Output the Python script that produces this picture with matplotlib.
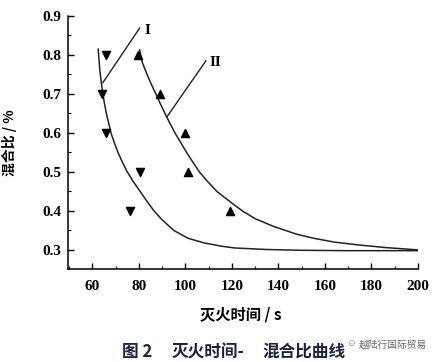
import matplotlib
matplotlib.use("Agg")
import matplotlib.pyplot as plt
from matplotlib.ticker import MultipleLocator

plt.rcParams['font.family'] = ['Liberation Serif', 'DejaVu Serif']
plt.rcParams['font.weight'] = 'bold'

# Data
x_I = [66, 64, 66, 80.5, 76.3]
y_I = [0.80, 0.70, 0.60, 0.50, 0.40]
x_II = [79.4, 89, 100, 101, 119]
y_II = [0.80, 0.70, 0.60, 0.50, 0.40]

curve_I_x = [62.5, 62.8, 63.2, 63.8, 64.5, 65.2, 66.0, 67.0, 68.0, 69.4, 71.0, 72.9, 75.0,
             77.6, 80.5, 83.4, 86.5, 90.0, 95.0, 101.0, 108.0, 115.0, 121.0, 135.0, 150.0,
             170.0, 200.0]
curve_I_y = [0.815, 0.79, 0.76, 0.73, 0.70, 0.675, 0.65, 0.625, 0.60, 0.575, 0.55, 0.525, 0.50,
             0.475, 0.45, 0.425, 0.40, 0.377, 0.35, 0.33, 0.318, 0.31, 0.305, 0.301, 0.299,
             0.298, 0.298]
curve_II_x = [80.3, 81.5, 83.5, 85.3, 87.3, 89.2, 91.2, 93.3, 95.5, 98.0, 100.5, 103.2, 106.0,
              109.6, 113.5, 120.0, 124.5, 130.0, 138.0, 148.0, 155.0, 164.0, 174.0, 186.0,
              200.0]
curve_II_y = [0.813, 0.78, 0.75, 0.725, 0.70, 0.675, 0.65, 0.625, 0.60, 0.575, 0.55, 0.525,
              0.50, 0.475, 0.45, 0.42, 0.40, 0.38, 0.36, 0.34, 0.33, 0.32, 0.313, 0.306, 0.30]

xticks = [60, 80, 100, 120, 140, 160, 180, 200]
yticks = [0.3, 0.4, 0.5, 0.6, 0.7, 0.8, 0.9]

fig = plt.figure(figsize=(4.39, 3.62), dpi=100)
ax = fig.add_axes([68/439, 1-269/362, (418-68)/439, (269-16)/362])

ax.plot(curve_I_x, curve_I_y, color='#222222', lw=1.1)
ax.plot(curve_II_x, curve_II_y, color='#222222', lw=1.1)
ax.scatter(x_I, y_I, marker='v', s=34, color='black', zorder=3)
ax.scatter(x_II, y_II, marker='^', s=34, color='black', zorder=3)

# leader lines and labels
ax.plot([64.5, 80.3], [0.729, 0.869], color='#222222', lw=1.0)
ax.text(82.5, 0.862, 'I', fontsize=11, fontweight='bold', va='center', ha='left')
ax.plot([92.0, 108.8], [0.641, 0.785], color='#222222', lw=1.0)
ax.text(110.5, 0.78, 'II', fontsize=11, fontweight='bold', va='center', ha='left')

ax.set_xlim(49.5, 200)
ax.set_ylim(0.251, 0.9)
ax.spines['top'].set_visible(False)
ax.spines['right'].set_visible(False)
for s in ['left', 'bottom']:
    ax.spines[s].set_linewidth(1.1)
ax.set_xticks(xticks)
ax.set_yticks(yticks)
ax.set_xticklabels([str(v) for v in xticks], fontsize=11, fontweight='bold')
ax.set_yticklabels([f'{v:.1f}' for v in yticks], fontsize=11, fontweight='bold')
ax.xaxis.set_minor_locator(MultipleLocator(10))
ax.yaxis.set_minor_locator(MultipleLocator(0.05))
ax.tick_params(which='major', direction='in', length=4, width=1.0)
ax.tick_params(which='minor', direction='in', length=2, width=0.8)
ax.tick_params(axis='x', which='major', pad=8)
ax.tick_params(axis='y', which='major', pad=5)

cjk = ['Noto Sans CJK SC', 'DejaVu Sans']
fig.text(200/439, 1-315/362, '灭火时间 / s', family=cjk, fontsize=11, fontweight='bold',
         ha='left', va='center')
fig.text(9/439, 1-143/362, '混合比 / %', family=cjk, fontsize=10, fontweight='bold',
         ha='center', va='center', rotation=90)
cap_color = '#1c2340'
fig.text(122/439, 1-352/362, '图 2', family=cjk, fontsize=12, fontweight='bold',
         ha='left', va='center', color=cap_color)
fig.text(172/439, 1-352/362, '灭火时间-', family=cjk, fontsize=12, fontweight='bold',
         ha='left', va='center', color=cap_color)
fig.text(262/439, 1-352/362, '混合比曲线', family=cjk, fontsize=12, fontweight='bold',
         ha='left', va='center', color=cap_color)
fig.text(359/439, 1-345/362, '越陆行国际贸易', family=cjk, fontsize=7, fontweight='normal',
         ha='left', va='center', color='#666666')
fig.text(351/439, 1-344/362, '⊙', family=['DejaVu Sans'], fontsize=6.5, fontweight='normal',
         ha='center', va='center', color='#999999')

fig.savefig('out.png', dpi=100)
